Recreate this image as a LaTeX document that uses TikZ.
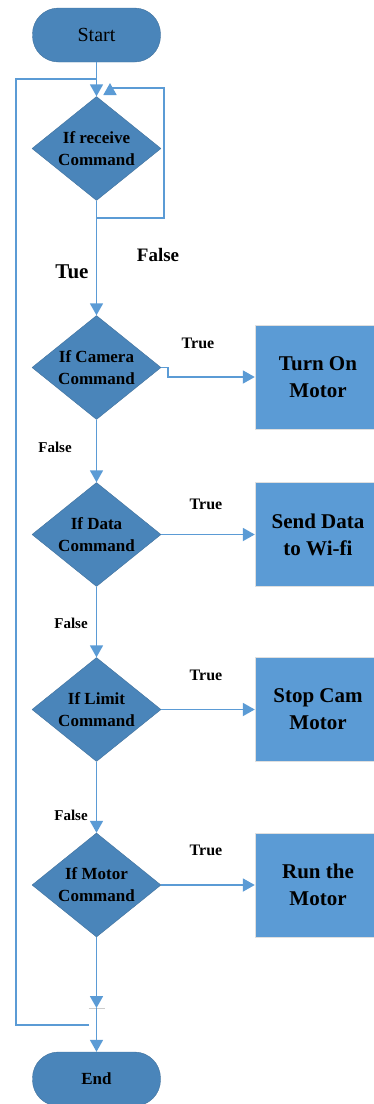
\documentclass[tikz,border=0pt]{standalone}
\usepackage{fontspec}
\setmainfont{Liberation Serif}
\usetikzlibrary{shapes.geometric, positioning, arrows.meta}
\definecolor{darkblue}{HTML}{4A85BA}
\definecolor{lightblue}{HTML}{5B9BD5}
\definecolor{edgeblue}{HTML}{41719C}
\tikzset{terminal/.style={draw=edgeblue,fill=darkblue,rounded corners=26pt,minimum width=128pt,minimum height=54pt},
         decision/.style={diamond,draw=edgeblue,fill=darkblue,shape aspect=1.25,minimum width=129pt,minimum height=104pt,inner sep=0pt,align=center,font=\bfseries\fontsize{17}{22}\selectfont},
         process/.style={draw=gray!25,fill=lightblue,minimum width=126pt,minimum height=104pt,align=center,font=\bfseries\fontsize{21}{27}\selectfont},
         flow/.style={draw=lightblue,line width=1.8pt,-{Triangle[length=12pt,width=13pt]}},
         plain/.style={draw=lightblue,line width=1.8pt},
         lbl/.style={font=\bfseries\fontsize{16}{18}\selectfont},
        }

\begin{document}
\begin{tikzpicture}[x=1pt,y=-1pt]
        \useasboundingbox (0,0) rectangle (373,1104);

        \node[terminal,font=\fontsize{20}{24}\selectfont](start)at(96.5,35){Start};
        \node[decision](d1)at(96.5,148.5){If receive\\Command};
        \node[decision](d2)at(96.5,367.5){If Camera\\Command};
        \node[decision](d3)at(96.5,534.5){If Data\\Command};
        \node[decision](d4)at(96.5,709.5){If Limit\\Command};
        \node[decision](d5)at(96.5,885){If Motor\\Command};
        \node[terminal,font=\bfseries\fontsize{17}{20}\selectfont](end)at(96.5,1079){End};

        \node[process](b1)at(318,377){Turn On\\Motor};
        \node[process](b2)at(318,534.5){Send Data\\to Wi-fi};
        \node[process](b3)at(318,709.5){Stop Cam\\Motor};
        \node[process](b4)at(318,885){Run the\\Motor};

        \coordinate(lt)at(96.5,79);
        \coordinate(lc)at(16,1025);
        \coordinate(lb)at(89,1025);
        \coordinate(fr)at(164,218);
        \coordinate(fa)at(110,88);
        \coordinate(j)at(96.5,1008);

        \draw[flow](start.south)--(d1.north);
        \draw[plain](lb)--(lc)|-(lt);
        \draw[flow](d1.south)|-(fr)|-(fa)--++(0,-5);
        \draw[flow](d1.south)--(d2.north);
        \draw[flow](d2.south)--(d3.north);
        \draw[flow](d3.south)--(d4.north);
        \draw[flow](d4.south)--(d5.north);
        \draw[flow](d5.south)--(j);
        \draw[gray!40,line width=1pt]([xshift=-8pt]j)--([xshift=8pt]j);
        \draw[flow](j)--(end.north);

        \draw[flow](d2.east)--++(7,0)|-(b1.west);
        \draw[flow](d3.east)--(b2.west);
        \draw[flow](d4.east)--(b3.west);
        \draw[flow](d5.east)--(b4.west);

        \node[lbl,font=\bfseries\fontsize{19}{21}\selectfont](f1)at(158,255){False};
        \node[lbl,font=\bfseries\fontsize{21}{23}\selectfont](t1)at(72,272){Tue};
        \node[lbl](t2)at(198,343){True};
        \node[lbl](t3)at(206,504){True};
        \node[lbl](t4)at(206,675){True};
        \node[lbl](t5)at(206,850){True};
        \node[lbl,font=\bfseries\fontsize{15}{17}\selectfont](f2)at(55,447){False};
        \node[lbl,font=\bfseries\fontsize{15}{17}\selectfont](f3)at(71,623){False};
        \node[lbl,font=\bfseries\fontsize{15}{17}\selectfont](f4)at(71,815){False};
    \end{tikzpicture}
\end{document}
